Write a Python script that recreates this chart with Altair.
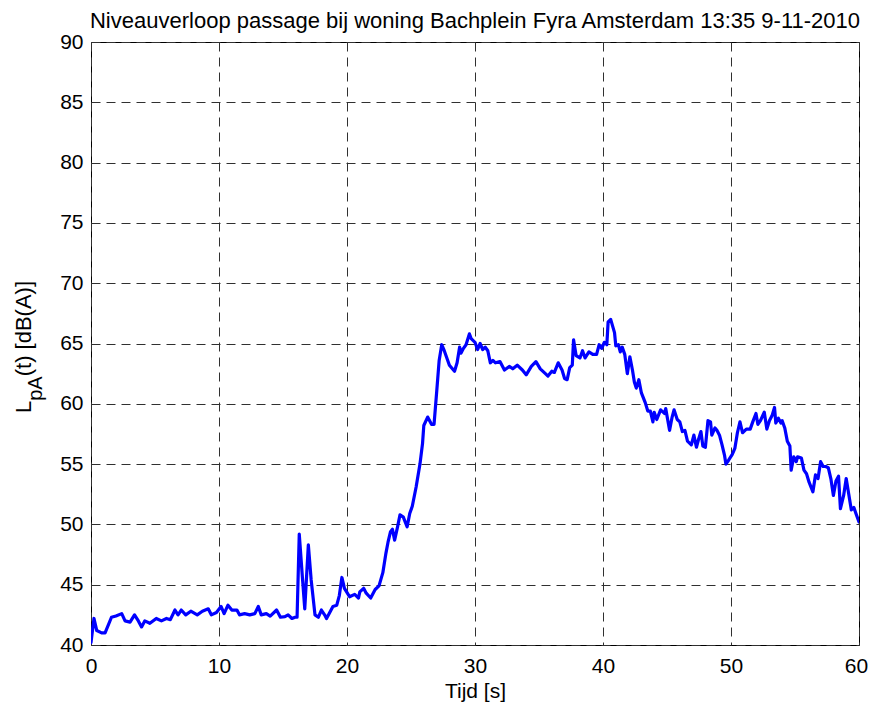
import altair as alt
import pandas as pd

# --- data ---
t = [0, 0.23, 0.45, 0.83, 1.1, 1.6, 1.95, 2.4, 2.66, 3.05, 3.4, 3.7, 3.95, 4.2, 4.6,
     5.1, 5.5, 5.9, 6.2, 6.56, 6.8, 7.05, 7.4, 7.8, 8.3, 8.7, 9.16, 9.4, 9.8, 10.16,
     10.4, 10.7, 11.0, 11.4, 11.6, 12.0, 12.4, 12.8, 13.07, 13.3, 13.7, 14.0, 14.5, 14.8,
     15.15, 15.4, 15.7, 15.94, 16.1, 16.27, 16.53, 16.7, 16.98, 17.2, 17.5, 17.76, 18.0,
     18.25, 18.4, 18.6, 18.9, 19.2, 19.4, 19.6, 19.8, 19.97, 20.2, 20.6, 20.9, 21.0, 21.3,
     21.5, 21.85, 22.2, 22.5, 22.8, 23.04, 23.2, 23.4, 23.55, 23.72, 23.95, 24.14, 24.4,
     24.7, 24.9, 25.1, 25.4, 25.7, 25.9, 26.0, 26.3, 26.6, 26.8, 27.0, 27.2, 27.4, 27.6,
     28.0, 28.4, 28.6, 28.8, 28.9, 29.1, 29.3, 29.56, 29.7, 30.0, 30.2, 30.4, 30.6, 30.8,
     31.0, 31.2, 31.4, 31.6, 31.95, 32.3, 32.7, 32.95, 33.3, 33.7, 34.0, 34.4, 34.76, 35.1,
     35.5, 35.7, 36.0, 36.2, 36.5, 36.8, 37.0, 37.2, 37.4, 37.6, 37.7, 37.9, 38.2, 38.4,
     38.6, 38.9, 39.2, 39.5, 39.7, 39.9, 40.1, 40.3, 40.4, 40.6, 40.9, 41.0, 41.2, 41.35,
     41.5, 41.7, 41.9, 42.1, 42.3, 42.45, 42.6, 42.8, 43.0, 43.3, 43.5, 43.7, 43.9, 44.0,
     44.2, 44.5, 44.8, 44.9, 45.2, 45.4, 45.55, 45.8, 46.0, 46.2, 46.4, 46.6, 46.9, 47.1,
     47.3, 47.45, 47.65, 47.8, 48.0, 48.2, 48.4, 48.5, 48.75, 48.9, 49.1, 49.3, 49.5, 49.6,
     49.8, 50.1, 50.3, 50.5, 50.7, 50.9, 51.2, 51.5, 51.7, 51.95, 52.1, 52.3, 52.6, 52.8,
     53.0, 53.2, 53.4, 53.5, 53.7, 53.9, 54.0, 54.2, 54.4, 54.6, 54.7, 54.9, 55.1, 55.2,
     55.5, 55.7, 55.9, 56.1, 56.4, 56.6, 56.8, 57.0, 57.2, 57.4, 57.6, 57.8, 58.0, 58.2,
     58.4, 58.55, 58.8, 59.0, 59.2, 59.4, 59.6, 59.76, 60.0]

level = [40.2, 42.2, 41.2, 41.0, 41.0, 42.3, 42.4, 42.6, 42.0, 41.9, 42.5, 42.0, 41.5, 42.0, 41.8,
         42.2, 42.0, 42.2, 42.1, 42.9, 42.5, 42.9, 42.5, 42.8, 42.5, 42.8, 43.0, 42.5, 42.7, 43.2,
         42.6, 43.3, 42.9, 42.9, 42.5, 42.6, 42.5, 42.6, 43.2, 42.5, 42.6, 42.4, 42.9, 42.3,
         42.35, 42.5, 42.2, 42.3, 42.3, 49.2, 45.4, 43.0, 48.3, 45.4, 42.5, 42.3, 42.9,
         42.5, 42.2, 42.6, 43.2, 43.3, 44.1, 45.6, 44.7, 44.4, 44.0, 44.2, 43.9, 44.4, 44.7,
         44.3, 43.9, 44.6, 44.9, 46.0, 47.6, 48.5, 49.4, 49.6, 48.7, 49.8, 50.8, 50.6,
         49.8, 50.9, 51.5, 53.1, 55.0, 56.7, 58.2, 58.9, 58.3, 58.3, 60.9, 63.6, 64.9, 64.4,
         63.2, 62.7, 63.4, 64.7, 64.2, 64.6, 64.9, 65.8, 65.4, 65.1, 64.5, 65.0, 64.5, 64.7,
         64.4, 63.4, 63.6, 63.4, 63.5, 62.8, 63.1, 62.9, 63.2, 62.8, 62.4, 63.1, 63.5, 62.9,
         62.5, 62.3, 62.7, 62.6, 63.4, 62.8, 62.1, 62.0, 63.0, 63.2, 65.3, 64.0, 63.8, 64.4,
         63.8, 64.3, 64.1, 64.1, 64.9, 64.6, 65.1, 64.9, 66.8, 67.0, 65.9, 64.8, 64.9, 64.3,
         64.7, 64.1, 62.5, 63.9, 62.8, 61.8, 61.3, 62.0, 60.9, 60.1, 59.4, 59.4, 58.5, 59.3,
         58.7, 59.5, 59.2, 59.6, 57.8, 58.9, 59.5, 58.7, 58.5, 57.7, 57.8, 56.9, 56.6, 57.4,
         56.4, 57.0, 57.7, 56.5, 56.4, 58.6, 58.5, 57.4, 58.0, 57.8, 57.4, 56.6, 55.7, 55.0,
         55.3, 55.8, 56.3, 57.6, 58.5, 57.6, 57.9, 57.9, 58.5, 59.2, 58.3, 58.6, 59.3, 57.9,
         58.6, 59.0, 59.7, 58.4, 58.8, 58.4, 58.6, 58.0, 56.9, 56.5, 54.5, 55.6, 55.2, 55.6,
         55.5, 54.5, 54.2, 53.5, 52.7, 54.1, 53.8, 55.2, 54.8, 54.8, 54.7, 53.8, 52.4, 53.6,
         54.0, 51.3, 52.4, 53.8, 52.5, 51.2, 51.4, 50.9, 50.2]

x_ticks = [0, 10, 20, 30, 40, 50, 60]
y_ticks = [40, 45, 50, 55, 60, 65, 70, 75, 80, 85, 90]

title_text = "Niveauverloop passage bij woning Bachplein Fyra Amsterdam 13:35 9-11-2010"
x_title = "Tijd [s]"
y_title_parts = ["L", "pA", "(t) [dB(A)]"]

FONT = "Liberation Sans"
df = pd.DataFrame({"t": t, "level": level})

line = alt.Chart(df).mark_line(color="#0000FF", strokeWidth=3.2, clip=True,
                               strokeJoin="round", strokeCap="round").encode(
    x=alt.X("t:Q", scale=alt.Scale(domain=[0, 60], nice=False),
            axis=alt.Axis(values=x_ticks, title=x_title, labelPadding=10,
                          titlePadding=4, titleFontSize=21, labelFontSize=21,
                          labelOffset={"condition": {"test": "datum.value === 60", "value": -3},
                                       "value": 0})),
    y=alt.Y("level:Q", scale=alt.Scale(domain=[40, 90], nice=False, zero=False),
            axis=alt.Axis(values=y_ticks, title=None, labelPadding=8, labelFontSize=21)),
)

one = pd.DataFrame({"k": [0]})
yt_main = alt.Chart(one).mark_text(angle=270, align="left", baseline="alphabetic",
                                   font=FONT, fontSize=22, color="black").encode(
    x=alt.value(-60), y=alt.value(371), text=alt.value(y_title_parts[0]))
yt_sub = alt.Chart(one).mark_text(angle=270, align="left", baseline="alphabetic",
                                  font=FONT, fontSize=20, color="black").encode(
    x=alt.value(-49), y=alt.value(358.8), text=alt.value(y_title_parts[1]))
yt_rest = alt.Chart(one).mark_text(angle=270, align="left", baseline="alphabetic",
                                   font=FONT, fontSize=22, color="black").encode(
    x=alt.value(-60), y=alt.value(334.3), text=alt.value(y_title_parts[2]))

chart = alt.layer(line, yt_main, yt_sub, yt_rest).properties(
    width=768, height=603,
    title=alt.TitleParams(title_text, font=FONT, fontSize=22, fontWeight="normal",
                          color="black", anchor="middle", offset=-2),
    padding={"left": 83, "top": 34, "right": 9, "bottom": 60},
    autosize=alt.AutoSizeParams(type="none"),
).configure_view(
    stroke="black", strokeWidth=1
).configure_axis(
    labelFont=FONT, titleFont=FONT, labelColor="black", titleColor="black",
    titleFontWeight="normal", domain=False, ticks=False,
    grid=True, gridColor="#303030", gridDash=[9, 6], gridWidth=1, gridOpacity=1,
    labelFlush=False,
)

chart.save("out.html", embed_options={"renderer": "svg", "actions": False})
